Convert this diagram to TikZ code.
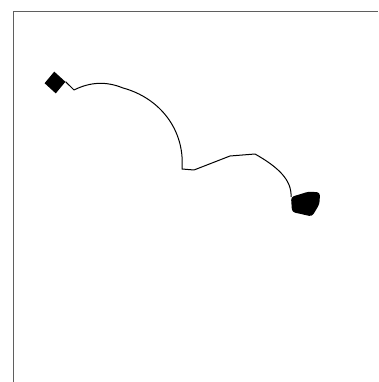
\documentclass[tikz,border=0pt]{standalone}
\usepackage{xcolor}
\usepackage{tikz}
\usetikzlibrary{shapes,arrows,positioning}
\definecolor{framegray}{RGB}{95, 95, 95}

\begin{document}
\begin{tikzpicture}[x=1pt, y=-1pt,
    startmark/.style={diamond, fill=black, inner sep=0pt, minimum width=21pt, minimum height=22pt, rotate=4},
    blob/.style={inner sep=0pt, minimum width=29pt, minimum height=24pt},
    trail/.style={line width=1pt, line join=round}]
\useasboundingbox (0,0) rectangle (378,382);
% Draw frame (left and top edges)
\draw[framegray, line width=1.6pt] (13.5,382) -- (13.5,11.5) -- (378,11.5);
% Start and end marks
\node[startmark] (start) at (55,82.5) {};
\node[blob] (goal) at (305,204) {};
\coordinate (goalin) at (291,197);
\fill[rounded corners=3pt] (goalin) -- (309,191.5) -- (320,192.5) -- (319.5,204) -- (312,216.5) -- (292,212) -- cycle;
% Draw the trail
\draw[trail] (start.east) -- (74,90) .. controls (90,82) and (106,81) .. (123,88)
    .. controls (160,98) and (185,130) .. (182,169) -- (194,170) -- (230,156) -- (255,154)
    .. controls (278,167) and (292,180) .. (goalin);
\end{tikzpicture}
\end{document}
